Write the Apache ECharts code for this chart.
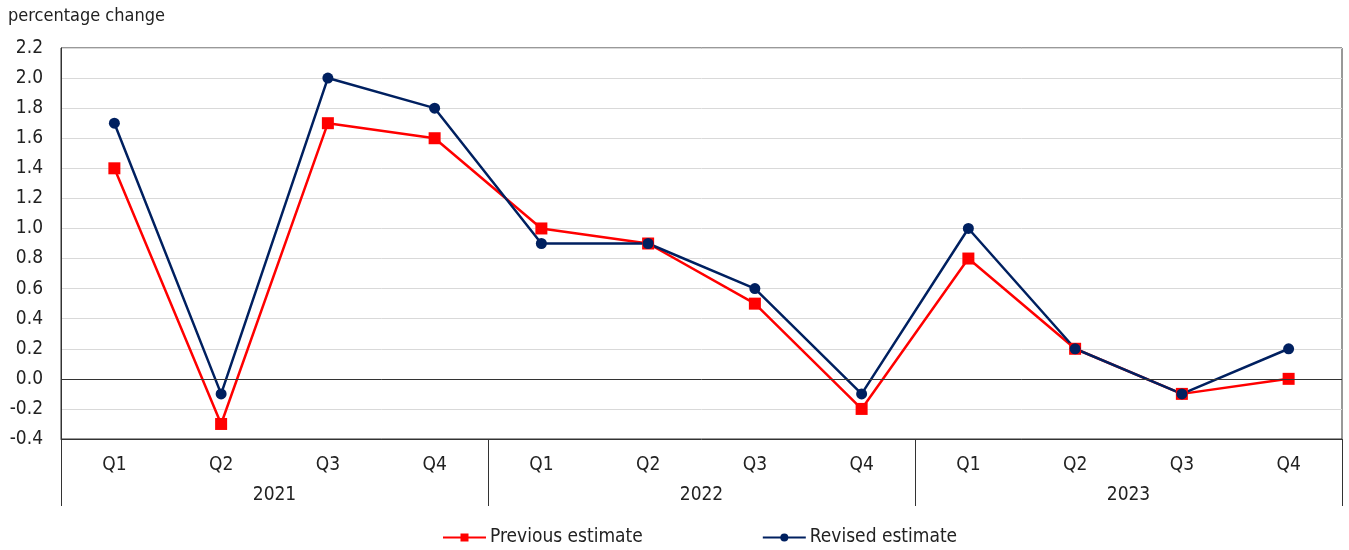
<!DOCTYPE html>
<html><head><meta charset="utf-8">
<script src="https://cdn.jsdelivr.net/npm/echarts@6/dist/echarts.min.js"></script>
<style>html,body{margin:0;padding:0;background:#fff}#c{width:1349px;height:550px}</style>
</head><body><div id="c"></div>
<script>
const quarters = ['Q1','Q2','Q3','Q4','Q1','Q2','Q3','Q4','Q1','Q2','Q3','Q4'];
const years = ['2021','2022','2023'];
const previousEstimate = [1.4, -0.3, 1.7, 1.6, 1.0, 0.9, 0.5, -0.2, 0.8, 0.2, -0.1, 0.0];
const revisedEstimate = [1.7, -0.1, 2.0, 1.8, 0.9, 0.9, 0.6, -0.1, 1.0, 0.2, -0.1, 0.2];

const FONT = '"DejaVu Sans Condensed", "Liberation Sans Narrow", "Roboto", sans-serif';
const chart = echarts.init(document.getElementById('c'));
chart.setOption({
  animation: false,
  textStyle: { fontFamily: FONT },
  title: { text: 'percentage change', left: 8, top: 7, padding: 0,
    textStyle: { fontFamily: FONT, fontSize: 18, fontWeight: 'normal', color: '#222' } },
  legend: { top: 528, left: 442, itemWidth: 43, itemHeight: 10, itemGap: 119, padding: 0,
    textStyle: { fontFamily: FONT, fontSize: 19, color: '#222', padding: [0, 0, 0, -1] },
    data: ['Previous estimate', 'Revised estimate'] },
  grid: { left: 61, right: 7, top: 48, bottom: 111, show: true, borderColor: '#333', borderWidth: 1 },
  xAxis: [
    { type: 'category', data: quarters, position: 'bottom',
      axisLine: { onZero: false, lineStyle: { color: '#333', width: 1 } },
      axisTick: { show: false },
      axisLabel: { margin: 17, fontFamily: FONT, fontSize: 19, color: '#222' } },
    { type: 'category', data: years, position: 'bottom', offset: 0,
      axisLine: { show: false, onZero: false },
      axisTick: { show: true, length: 67, lineStyle: { color: '#333', width: 1 } },
      axisLabel: { margin: 47, fontFamily: FONT, fontSize: 19, color: '#222' } }
  ],
  yAxis: { type: 'value', min: -0.4, max: 2.2, interval: 0.2,
    axisLine: { show: true, lineStyle: { color: '#333' } },
    axisTick: { show: false },
    splitLine: { lineStyle: { color: '#d9d9d9', width: 1 } },
    axisLabel: { margin: 18, fontFamily: FONT, fontSize: 19, color: '#222',
      formatter: v => (Math.abs(v) < 1e-9 ? 0 : v).toFixed(1) } },
  series: [
    { name: 'Previous estimate', type: 'line', data: previousEstimate,
      symbol: 'rect', symbolSize: 12, color: '#ff0000',
      lineStyle: { color: '#ff0000', width: 2.5 }, itemStyle: { color: '#ff0000' },
      markLine: { silent: true, symbol: 'none', label: { show: false },
        lineStyle: { color: '#333', width: 1, type: 'solid' }, data: [{ yAxis: 0 }] } },
    { name: 'Revised estimate', type: 'line', data: revisedEstimate,
      symbol: 'circle', symbolSize: 11, color: '#002060',
      lineStyle: { color: '#002060', width: 2.5 }, itemStyle: { color: '#002060' } }
  ]
});
</script></body></html>
